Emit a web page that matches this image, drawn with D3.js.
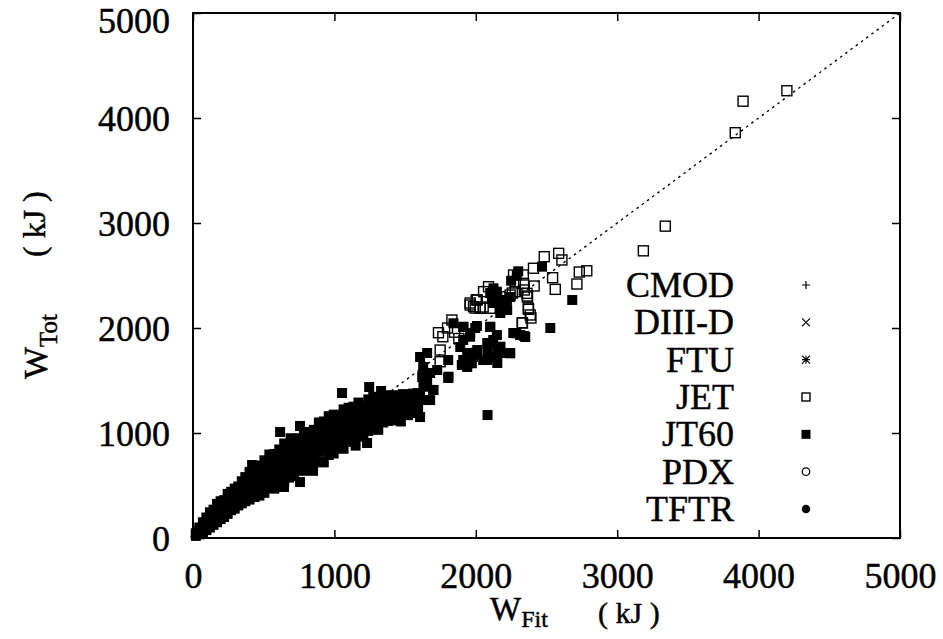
<!DOCTYPE html>
<html>
<head>
<meta charset="utf-8">
<script src="https://cdn.jsdelivr.net/npm/d3@7"></script>
<style>
  html, body { margin: 0; padding: 0; background: #fff; }
  svg { display: block; }
  text { font-family: "Liberation Serif", "Times New Roman", Times, serif; fill: #000; stroke: #000; stroke-width: 0.45px; }
</style>
</head>
<body>
<svg id="chart" width="943" height="639"></svg>
<script>
// ---------- data (kJ) ----------
const xTicks = [0, 1000, 2000, 3000, 4000, 5000];
const yTicks = [0, 1000, 2000, 3000, 4000, 5000];
const legendNames = ["CMOD", "DIII-D", "FTU", "JET", "JT60", "PDX", "TFTR"];

const CMOD = [[10,12],[15,20],[20,18],[25,28],[30,35],[35,30]];
const DIII_D = [[100,110],[180,210],[260,300],[340,390],[450,520],[560,640],[650,760],[730,900]];
const FTU = [[20,25],[35,30],[45,50]];
const PDX = [[40,45],[60,55],[80,90]];
const TFTR = [[150,170],[250,290],[400,470],[550,650],[650,720],[800,880]];

const JET = [[1736,1955],[1767,1917],[1831,2076],[1748,1790],[1748,1679],[1800,2000],[1850,1960],[1880,1900],
  [1960,2219],[2003,2267],[2031,2188],[2102,2188],[2243,2314],[2267,2505],[2279,2441],[2338,2425],[2362,2330],
  [2408,2569],[2484,2679],[2586,2711],[2609,2648],[2279,2346],[2055,2346],[2090,2393],[2173,2298],[2196,2188],
  [2336,2505],[1984,2203],[1960,2238],[2010,2267],[1996,2190],[2052,2200],[2258,2333],[2364,2295],[2385,2124],
  [2371,2190],[2328,2048],[2785,2545],[2732,2533],[2715,2419],[2562,2368],[2543,2479],[2413,2400],[2373,2178],
  [2330,2050],[2390,2095],[2366,2305],[2343,2362],[3185,2735],[3340,2970],[3835,3860],[3890,4160],[4200,4260]];

// dense JT60 band (low and mid range), read as columns of points across the band
const JT60_band = [
  [20,20],[20,45],[45,35],[45,70],[45,100],[70,55],[70,100],[70,150],[95,75],[95,130],[95,195],
  [120,100],[120,165],[120,245],[145,125],[145,200],[145,270],[170,150],[170,235],[170,325],
  [195,180],[195,260],[195,350],[220,200],[220,285],[220,360],[245,230],[245,320],[245,420],
  [270,265],[270,355],[270,440],[295,280],[295,380],[295,470],[320,310],[320,400],[320,490],
  [345,330],[345,430],[345,540],[370,350],[370,440],[370,520],[370,580],
  [400,366],[400,445],[400,500],[400,580],[400,630],[435,390],[435,460],[435,540],[435,610],[435,680],
  [470,404],[470,490],[470,560],[470,645],[470,690],[505,430],[505,505],[505,595],[505,670],[505,740],
  [540,480],[540,530],[540,625],[540,715],[540,795],[575,470],[575,565],[575,645],[575,735],[575,800],
  [610,520],[610,600],[610,675],[610,765],[610,843],[645,540],[645,620],[645,710],[645,790],[645,900],
  [680,575],[680,655],[680,735],[680,825],[680,880],[715,590],[715,680],[715,770],[715,850],[715,935],
  [750,660],[750,700],[750,795],[750,885],[750,950],[785,640],[785,735],[785,820],[785,915],[785,1000],
  [820,670],[820,765],[820,860],[820,945],[820,1010],[855,720],[855,790],[855,885],[855,980],[855,1030],
  [890,725],[890,820],[890,915],[890,1010],[890,1100],[925,720],[925,845],[925,940],[925,1035],[925,1110],
  [960,790],[960,870],[960,965],[960,1060],[960,1160],[995,805],[995,900],[995,990],[995,1085],[995,1175],
  [1030,860],[1030,925],[1030,1015],[1030,1110],[1030,1160],[1065,850],[1065,950],[1065,1040],[1065,1130],[1065,1225],
  [1100,940],[1100,980],[1100,1065],[1100,1150],[1100,1240],[1135,915],[1135,1005],[1135,1090],[1135,1175],[1135,1250],
  [1170,965],[1170,1035],[1170,1115],[1170,1195],[1170,1290],[1205,985],[1205,1065],[1205,1140],[1205,1220],[1205,1260],
  [1240,1020],[1240,1090],[1240,1165],[1240,1240],[1240,1320],[1275,1045],[1275,1120],[1275,1190],[1275,1260],[1275,1345],
  [1310,1030],[1310,1140],[1310,1205],[1310,1275],[1310,1340],[1345,1100],[1345,1160],[1345,1220],[1345,1285],[1345,1330],
  [1380,1115],[1380,1170],[1380,1230],[1380,1290],[1380,1360],[1415,1130],[1415,1185],[1415,1240],[1415,1295],[1415,1330],
  [1450,1120],[1450,1195],[1450,1250],[1450,1300],[1450,1360],[1485,1190],[1485,1205],[1485,1255],[1485,1305],[1485,1370],
  [1520,1170],[1520,1215],[1520,1265],[1520,1310],[1520,1340],[1555,1190],[1555,1230],[1555,1275],[1555,1320],[1555,1375],
  [1590,1205],[1590,1250],[1590,1290],[1590,1335],[1590,1380]];

// JT60 scattered points: outliers and the upper cluster
const JT60_scatter = [[418,695],[510,714],[616,1010],[644,486],[757,1067],[757,533],[1054,1381],[1231,905],[1246,1438],
  [849,640],[690,950],[1150,880],[1330,1400],[1470,1110],
  [1606,1152],[1592,1248],[1606,1362],[1621,1533],[1606,1724],[1628,1629],[1656,1476],
  [1656,1314],[1656,1762],[1677,1571],[1677,1314],[1698,1410],[1727,1600],[1805,1524],[1805,1695],[1890,1819],
  [1911,1695],[1939,1629],[2010,1762],[2052,1695],[2081,1857],[1911,2010],[1960,1952],[1911,1886],[1939,1762],
  [1982,1724],[1939,1648],[2010,1790],[1996,2000],[2102,2010],[2123,1886],[2116,1857],[2173,1819],[2152,1762],
  [2194,1762],[2243,1762],[2081,1695],[2152,1667],[2116,1724],[2265,1952],[2314,1933],[2350,1914],[2527,2000],
  [2682,2267],[2102,2333],[2152,2295],[2194,2238],[2222,2171],[2173,2143],[2243,2295],[2123,2238],[2149,2346],
  [2220,2267],[2184,2203],[2468,2584],[2125,2378],[2114,2283],[2290,2500],[2250,2450],[2300,2540],[2083,1171],
  [2286,1950],[2343,1924],[2243,1759],[2149,1933],[2102,2012],[2173,1822],[2083,1765],[2003,1765],[1972,1664],
  [1901,1648],[1807,1536],[1701,1410],[1630,1441],[1607,1314],[1913,2012],
  [1842,2045],[1960,1917],[2008,2019]];

const JT60 = JT60_band.concat(JT60_scatter);

// ---------- layout ----------
const svg = d3.select("#chart");
const L = 193, R = 900, T = 13, B = 538;
const x = d3.scaleLinear().domain([0, 5000]).range([L, R]);
const y = d3.scaleLinear().domain([0, 5000]).range([B, T]);

// diagonal y = x
svg.append("line")
  .attr("x1", x(0)).attr("y1", y(0)).attr("x2", x(5000)).attr("y2", y(5000))
  .attr("stroke", "#000").attr("stroke-width", 1.3).attr("stroke-dasharray", "2.5,4");

// ---------- markers ----------
function drawMarker(g, type, cx, cy, s) {
  const h = s / 2;
  if (type === "plus") {
    g.append("path").attr("d", `M${cx-h},${cy}H${cx+h}M${cx},${cy-h}V${cy+h}`)
      .attr("stroke", "#000").attr("stroke-width", 1.2).attr("fill", "none");
  } else if (type === "cross") {
    g.append("path").attr("d", `M${cx-h},${cy-h}L${cx+h},${cy+h}M${cx-h},${cy+h}L${cx+h},${cy-h}`)
      .attr("stroke", "#000").attr("stroke-width", 1.2).attr("fill", "none");
  } else if (type === "star") {
    g.append("path").attr("d", `M${cx-h},${cy}H${cx+h}M${cx},${cy-h}V${cy+h}M${cx-h},${cy-h}L${cx+h},${cy+h}M${cx-h},${cy+h}L${cx+h},${cy-h}`)
      .attr("stroke", "#000").attr("stroke-width", 1.2).attr("fill", "none");
  } else if (type === "osq") {
    g.append("rect").attr("x", cx-h).attr("y", cy-h).attr("width", s).attr("height", s)
      .attr("fill", "none").attr("stroke", "#000").attr("stroke-width", 1.4);
  } else if (type === "fsq") {
    g.append("rect").attr("x", cx-h).attr("y", cy-h).attr("width", s).attr("height", s)
      .attr("fill", "#000");
  } else if (type === "ocirc") {
    g.append("circle").attr("cx", cx).attr("cy", cy).attr("r", h)
      .attr("fill", "none").attr("stroke", "#000").attr("stroke-width", 1.3);
  } else if (type === "fcirc") {
    g.append("circle").attr("cx", cx).attr("cy", cy).attr("r", h).attr("fill", "#000");
  }
}

const series = [
  { name: "CMOD", data: CMOD, type: "plus", size: 8, lsize: 8 },
  { name: "DIII-D", data: DIII_D, type: "cross", size: 8, lsize: 8 },
  { name: "FTU", data: FTU, type: "star", size: 8, lsize: 8 },
  { name: "JET", data: JET, type: "osq", size: 10, lsize: 8 },
  { name: "JT60", data: JT60, type: "fsq", size: 10, lsize: 9 },
  { name: "PDX", data: PDX, type: "ocirc", size: 8, lsize: 7.5 },
  { name: "TFTR", data: TFTR, type: "fcirc", size: 8, lsize: 8.5 }
];

const plotG = svg.append("g");
series.forEach(s => {
  const g = plotG.append("g").attr("class", "series");
  s.data.forEach(d => drawMarker(g, s.type, x(d[0]), y(d[1]), s.size));
});

// ---------- axes ----------
const fmt = d3.format("d");
const FONT = "Liberation Serif, Times New Roman, serif";
svg.append("g").attr("transform", `translate(0,${B})`)
  .call(d3.axisBottom(x).tickValues(xTicks).tickFormat(fmt).tickSizeInner(-8).tickSizeOuter(0).tickPadding(24))
  .call(g => { g.select(".domain").remove(); g.attr("font-family", FONT); g.selectAll("text").attr("font-size", 36); g.selectAll("line").attr("stroke-width", 1.5); });
svg.append("g").attr("transform", `translate(0,${T})`)
  .call(d3.axisTop(x).tickValues(xTicks).tickFormat("").tickSizeInner(-8).tickSizeOuter(0))
  .call(g => { g.select(".domain").remove(); g.selectAll("line").attr("stroke-width", 1.5); });
svg.append("g").attr("transform", `translate(${L},0)`)
  .call(d3.axisLeft(y).tickValues(yTicks).tickFormat(fmt).tickSizeInner(-8).tickSizeOuter(0).tickPadding(23))
  .call(g => { g.select(".domain").remove(); g.attr("font-family", FONT);
    g.selectAll("text").attr("font-size", 36).attr("dy", d => d === 5000 ? "0.53em" : "0.36em");
    g.selectAll("line").attr("stroke-width", 1.5); });
svg.append("g").attr("transform", `translate(${R},0)`)
  .call(d3.axisRight(y).tickValues(yTicks).tickFormat("").tickSizeInner(-8).tickSizeOuter(0))
  .call(g => { g.select(".domain").remove(); g.selectAll("line").attr("stroke-width", 1.5); });

svg.append("rect").attr("x", L).attr("y", T).attr("width", R - L).attr("height", B - T)
  .attr("fill", "none").attr("stroke", "#000").attr("stroke-width", 2);

// ---------- axis titles ----------
const xt = svg.append("text").attr("x", 490).attr("y", 620).attr("font-size", 33);
xt.append("tspan").text("W");
xt.append("tspan").attr("font-size", 24).attr("dy", 7).text("Fit");
svg.append("text").attr("x", 598).attr("y", 623).attr("font-size", 30).text("( kJ )");

const yt = svg.append("text").attr("transform", "translate(47,379) rotate(-90)").attr("font-size", 34);
yt.append("tspan").text("W");
yt.append("tspan").attr("font-size", 25).attr("dy", 10).text("Tot");
svg.append("text").attr("transform", "translate(45,257) rotate(-90)").attr("font-size", 32).text("( kJ )");

// ---------- legend ----------
const legY = d3.scalePoint().domain(legendNames).range([285, 509]);
const leg = svg.append("g");
series.forEach(s => {
  const cy = legY(s.name);
  leg.append("text").attr("x", 734).attr("y", cy + 12).attr("text-anchor", "end")
    .attr("font-size", 36).text(s.name);
  drawMarker(leg, s.type, 806, cy, s.lsize);
});
</script>
</body>
</html>
